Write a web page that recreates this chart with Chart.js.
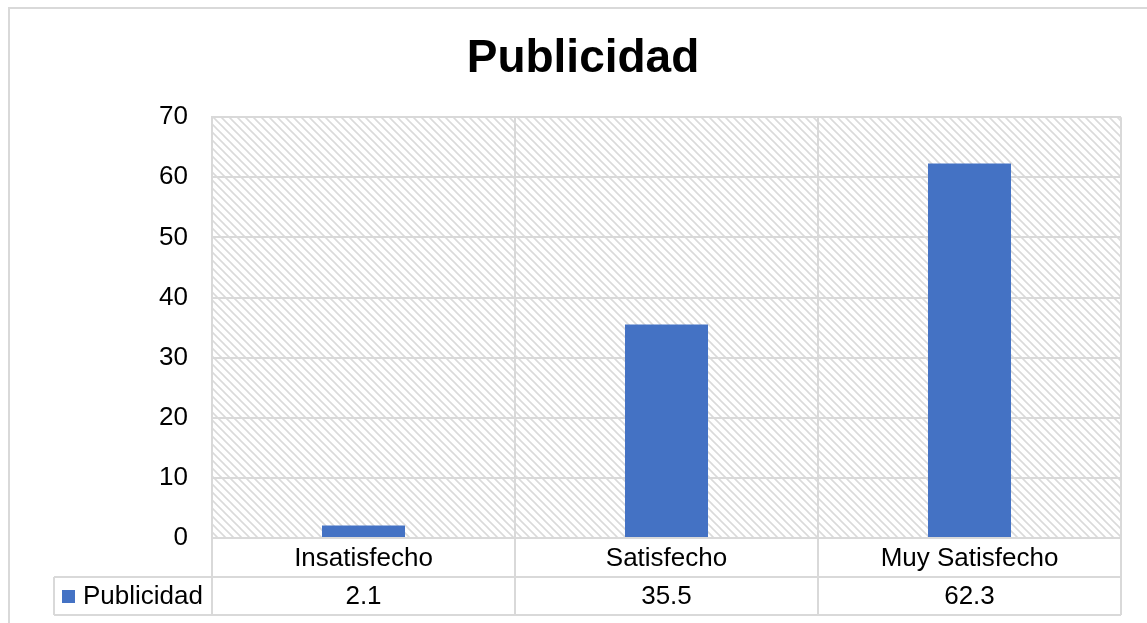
<!DOCTYPE html>
<html>
<head>
<meta charset="utf-8">
<script src="https://cdn.jsdelivr.net/npm/chart.js@4.4.1/dist/chart.umd.min.js"></script>
<style>
  html, body { margin: 0; padding: 0; background: #fff; overflow: hidden; width: 1147px; height: 623px; }
  #wrap { position: absolute; left: 0; top: 0; width: 1166px; height: 623px; }
</style>
</head>
<body>
<div id="wrap"><canvas id="c" width="1166" height="623"></canvas></div>
<script>
const chartTitle = 'Publicidad';
const categories = ['Insatisfecho', 'Satisfecho', 'Muy Satisfecho'];
const seriesName = 'Publicidad';
const publicidad = [2.1, 35.5, 62.3];
const valueLabels = ['2.1', '35.5', '62.3'];
const yMin = 0, yMax = 70, yStep = 10;

const FONT = '"Liberation Sans", Arial, sans-serif';
const GRID = '#d9d9d9';
const BAR = '#4472C4';

// hatch pattern
const pc = document.createElement('canvas');
pc.width = 8; pc.height = 8;
const pg = pc.getContext('2d');
pg.fillStyle = '#fff'; pg.fillRect(0, 0, 8, 8);
pg.strokeStyle = '#dadada'; pg.lineWidth = 1.6;
pg.beginPath();
pg.moveTo(-2, -2); pg.lineTo(10, 10);
pg.moveTo(-2, 6); pg.lineTo(2, 10);
pg.moveTo(6, -2); pg.lineTo(10, 2);
pg.stroke();

const tablePlugin = {
  id: 'excelTable',
  beforeDraw(chart) {
    const ctx = chart.ctx, a = chart.chartArea;
    ctx.save();
    ctx.fillStyle = '#fff';
    ctx.fillRect(0, 0, chart.width, chart.height);
    ctx.strokeStyle = GRID; ctx.lineWidth = 2;
    ctx.strokeRect(9, 8, chart.width - 18, chart.height + 50);
    ctx.fillStyle = ctx.createPattern(pc, 'repeat');
    ctx.fillRect(a.left, a.top, a.right - a.left, a.bottom - a.top);
    ctx.restore();
  },
  afterDraw(chart) {
    const ctx = chart.ctx, a = chart.chartArea, xs = chart.scales.x;
    const n = chart.data.labels.length;
    const half = (xs.getPixelForValue(1) - xs.getPixelForValue(0)) / 2;
    const r0 = a.bottom, r1 = r0 + 39, r2 = r1 + 38;
    const legLeft = 54;
    ctx.save();
    ctx.strokeStyle = GRID; ctx.lineWidth = 2;
    ctx.beginPath();
    for (let i = 0; i <= n; i++) {
      const x = (i < n ? xs.getPixelForValue(i) - half : xs.getPixelForValue(n - 1) + half);
      ctx.moveTo(x, r0); ctx.lineTo(x, r2);
    }
    ctx.moveTo(legLeft, r1); ctx.lineTo(a.right, r1);
    ctx.moveTo(legLeft, r2); ctx.lineTo(a.right, r2);
    ctx.moveTo(legLeft, r1); ctx.lineTo(legLeft, r2);
    ctx.stroke();

    ctx.fillStyle = '#000';
    ctx.font = '26px ' + FONT;
    ctx.textAlign = 'center'; ctx.textBaseline = 'middle';
    const ds = chart.data.datasets[0];
    chart.data.labels.forEach((lab, i) => {
      const x = xs.getPixelForValue(i);
      ctx.fillText(lab, x, (r0 + r1) / 2 + 1);
      ctx.fillText(valueLabels[i], x, (r1 + r2) / 2 + 1);
    });
    // legend key
    ctx.fillStyle = ds.backgroundColor;
    ctx.fillRect(62, 590, 13, 13);
    ctx.fillStyle = '#000';
    ctx.textAlign = 'left';
    ctx.fillText(ds.label, 83, (r1 + r2) / 2 + 1);
    ctx.restore();
  }
};

new Chart(document.getElementById('c'), {
  type: 'bar',
  data: {
    labels: categories,
    datasets: [{
      label: seriesName,
      data: publicidad,
      backgroundColor: BAR,
      borderWidth: 0,
      categoryPercentage: 1,
      barPercentage: 0.274
    }]
  },
  options: {
    responsive: false,
    devicePixelRatio: 1,
    animation: false,
    layout: { padding: { left: 45, right: 45, top: 0, bottom: 8 } },
    plugins: {
      legend: { display: false },
      tooltip: { enabled: false },
      title: {
        display: true,
        text: chartTitle,
        color: '#000',
        font: { family: FONT, size: 46, weight: 'bold', lineHeight: 1.2 },
        padding: { top: 32, bottom: 30 }
      }
    },
    scales: {
      x: {
        offset: true,
        grid: { offset: true, color: GRID, lineWidth: 2, drawTicks: false },
        border: { color: GRID, width: 2 },
        ticks: { display: false },
        afterFit(s) { s.height = 77; }
      },
      y: {
        min: yMin, max: yMax,
        ticks: { stepSize: yStep, padding: 24, color: '#000', font: { family: FONT, size: 26 } },
        grid: { color: GRID, lineWidth: 2, drawTicks: false },
        border: { color: GRID, width: 2 },
        afterFit(s) { s.width = 167; }
      }
    }
  },
  plugins: [tablePlugin]
});
</script>
</body>
</html>
